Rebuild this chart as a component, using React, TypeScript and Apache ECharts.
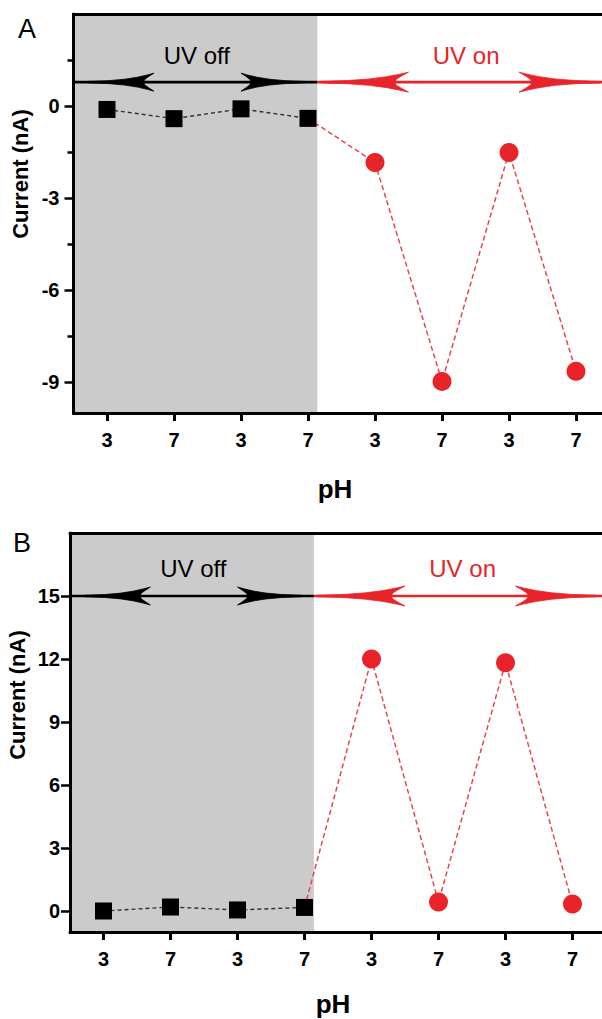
import React, { useEffect, useRef } from "react";
import * as echarts from "echarts";

// ---- data ----
const phLabels = ["3", "7", "3", "7", "3", "7", "3", "7"];
const positions = [1, 2, 3, 4, 5, 6, 7, 8];
const offA = [-0.11, -0.41, -0.09, -0.4];
const onA = [-1.84, -8.97, -1.51, -8.64];
const offB = [0.0, 0.19, 0.05, 0.17];
const onB = [12.0, 0.43, 11.82, 0.33];
const yTicksA = [-9, -6, -3, 0];
const yMinorA = [-7.5, -4.5, -1.5, 1.5];
const yTicksB = [0, 3, 6, 9, 12, 15];
const yRangeA = [-10, 3];
const yRangeB = [-1, 18];
const xRange = [0.5, 8.5];
const uvBoundary = 4.14;
const arrowLevelA = 0.78;
const arrowLevelB = 15;
const textLevelA = 1.65;
const textLevelB = 16.3;
const offTextX = 2.34;
const onTextX = 6.36;
// [tip, back] x positions of arrowheads
const offArrows = [
  [0.72, 1.7],
  [3.95, 3.0],
];
const onArrows = [
  [4.2, 5.5],
  [8.35, 7.15],
];

const GRAY = "#cbcbcb";
const RED = "#e8242a";
const RED_LINE = "#e5484c";
const FONT = "'Liberation Sans', Arial, Helvetica, sans-serif";

function arrowHead(tip: number[], back: number[], h: number, color: string) {
  const L = back[0] - tip[0];
  const prof = [
    [0, 0.08],
    [0.3, 0.16],
    [0.55, 0.32],
    [0.75, 0.55],
    [0.9, 0.8],
    [1, 1],
    [0.92, 0.62],
    [0.86, 0.3],
    [0.84, 0],
  ];
  const pts: number[][] = [[tip[0] - 0.02 * L, tip[1]]];
  prof.forEach(([t, w]) => pts.push([tip[0] + t * L, tip[1] - w * h]));
  for (let i = prof.length - 2; i >= 0; i--) {
    const [t, w] = prof[i];
    pts.push([tip[0] + t * L, tip[1] + w * h]);
  }
  return { type: "polygon", shape: { points: pts }, style: { fill: color, stroke: color, lineWidth: 0.8 } };
}

function overlay(level: number, yr: number[], textLevel: number) {
  return (params: any, api: any) => {
    const tl = api.coord([xRange[0], yr[1]]);
    const br = api.coord([uvBoundary, yr[0]]);
    const l0 = api.coord([xRange[0], level]);
    const lb = api.coord([uvBoundary, level]);
    const l1 = api.coord([xRange[1], level]);
    const children: any[] = [
      {
        type: "rect",
        shape: { x: tl[0], y: tl[1], width: br[0] - tl[0], height: br[1] - tl[1] },
        style: { fill: GRAY },
      },
      {
        type: "line",
        shape: { x1: l0[0], y1: l0[1], x2: lb[0], y2: lb[1] },
        style: { stroke: "#000", lineWidth: 2.6 },
      },
      {
        type: "line",
        shape: { x1: lb[0], y1: lb[1], x2: l1[0], y2: l1[1] },
        style: { stroke: RED, lineWidth: 2.6 },
      },
    ];
    offArrows.forEach(([t, b]) => {
      children.push(arrowHead(api.coord([t, level]), api.coord([b, level]), 9, "#000"));
    });
    onArrows.forEach(([t, b]) => {
      children.push(arrowHead(api.coord([t, level]), api.coord([b, level]), 10, RED));
    });
    const pOff = api.coord([offTextX, textLevel]);
    const pOn = api.coord([onTextX, textLevel]);
    children.push({
      type: "text",
      x: pOff[0],
      y: pOff[1],
      style: { text: "UV off", fill: "#000", fontSize: 24, fontFamily: FONT, align: "center", verticalAlign: "middle" },
    });
    children.push({
      type: "text",
      x: pOn[0],
      y: pOn[1],
      style: { text: "UV on", fill: RED, fontSize: 24, fontFamily: FONT, align: "center", verticalAlign: "middle" },
    });
    return { type: "group", children };
  };
}

const axisLine = { show: true, onZero: false, lineStyle: { color: "#000", width: 3 } };
const tickLabel = { color: "#000", fontSize: 20, fontWeight: "bold", fontFamily: FONT };

function bottomX(gridIndex: number) {
  return {
    type: "value",
    gridIndex,
    position: "bottom",
    min: xRange[0],
    max: xRange[1],
    z: 10,
    axisLine,
    splitLine: { show: false },
    axisTick: { show: true, customValues: positions, length: 8, lineStyle: { color: "#000", width: 3 } },
    axisLabel: {
      ...tickLabel,
      customValues: positions,
      margin: 17,
      formatter: (v: number) => phLabels[Math.round(v) - 1] ?? "",
    },
  };
}
function topX(gridIndex: number) {
  return {
    type: "value",
    gridIndex,
    position: "top",
    min: xRange[0],
    max: xRange[1],
    z: 10,
    axisLine,
    splitLine: { show: false },
    axisTick: { show: false },
    axisLabel: { show: false },
  };
}

function series(off: number[], on: number[], xIdx: number, yIdx: number) {
  const offData = off.map((v, i) => [positions[i], v]);
  const onData: any[] = [
    { value: [positions[off.length - 1], off[off.length - 1]], symbol: "none" },
    ...on.map((v, i) => [positions[off.length + i], v]),
  ];
  return [
    {
      type: "line",
      xAxisIndex: xIdx,
      yAxisIndex: yIdx,
      data: onData,
      z: 3,
      symbol: "circle",
      symbolSize: 19,
      itemStyle: { color: RED },
      lineStyle: { color: RED_LINE, width: 1.5, type: [5, 3] },
    },
    {
      type: "line",
      xAxisIndex: xIdx,
      yAxisIndex: yIdx,
      data: offData,
      z: 4,
      symbol: "rect",
      symbolSize: 17,
      itemStyle: { color: "#000" },
      lineStyle: { color: "#333", width: 1.4, type: [4, 3] },
    },
  ];
}

const option: any = {
  animation: false,
  backgroundColor: "#fff",
  grid: [
    { left: 73.5, top: 14, width: 536, height: 399 },
    { left: 70, top: 533, width: 536, height: 399 },
  ],
  xAxis: [bottomX(0), topX(0), bottomX(1), topX(1)],
  yAxis: [
    {
      type: "value",
      gridIndex: 0,
      position: "left",
      min: yRangeA[0],
      max: yRangeA[1],
      z: 10,
      axisLine,
      splitLine: { show: false },
      axisTick: { show: true, customValues: yTicksA, length: 9, lineStyle: { color: "#000", width: 2.5 } },
      axisLabel: { ...tickLabel, customValues: yTicksA, margin: 14 },
    },
    {
      type: "value",
      gridIndex: 0,
      position: "left",
      min: yRangeA[0],
      max: yRangeA[1],
      z: 10,
      axisLine: { show: false },
      splitLine: { show: false },
      axisTick: { show: true, customValues: yMinorA, length: 6, lineStyle: { color: "#000", width: 2.5 } },
      axisLabel: { show: false },
    },
    {
      type: "value",
      gridIndex: 1,
      position: "left",
      min: yRangeB[0],
      max: yRangeB[1],
      z: 10,
      axisLine,
      splitLine: { show: false },
      axisTick: { show: true, customValues: yTicksB, length: 9, lineStyle: { color: "#000", width: 2.5 } },
      axisLabel: { ...tickLabel, customValues: yTicksB, margin: 10 },
    },
  ],
  series: [
    {
      type: "custom",
      xAxisIndex: 0,
      yAxisIndex: 0,
      z: 1,
      silent: true,
      data: [[xRange[0], arrowLevelA]],
      renderItem: overlay(arrowLevelA, yRangeA, textLevelA),
    },
    {
      type: "custom",
      xAxisIndex: 2,
      yAxisIndex: 2,
      z: 1,
      silent: true,
      data: [[xRange[0], arrowLevelB]],
      renderItem: overlay(arrowLevelB, yRangeB, textLevelB),
    },
    ...series(offA, onA, 0, 0),
    ...series(offB, onB, 2, 2),
  ],
  graphic: [
    { type: "text", left: 18, top: 15, style: { text: "A", fontSize: 27, fontFamily: FONT, fill: "#000" } },
    { type: "text", left: 13, top: 529, style: { text: "B", fontSize: 27, fontFamily: FONT, fill: "#000" } },
    {
      type: "text",
      x: 20,
      y: 174,
      rotation: Math.PI / 2,
      style: { text: "Current (nA)", fontSize: 22, fontWeight: "bold", fontFamily: FONT, fill: "#000", align: "center", verticalAlign: "middle" },
    },
    {
      type: "text",
      x: 17,
      y: 695,
      rotation: Math.PI / 2,
      style: { text: "Current (nA)", fontSize: 22, fontWeight: "bold", fontFamily: FONT, fill: "#000", align: "center", verticalAlign: "middle" },
    },
    {
      type: "text",
      x: 335,
      y: 489,
      style: { text: "pH", fontSize: 26, fontWeight: "bold", fontFamily: FONT, fill: "#000", align: "center", verticalAlign: "middle" },
    },
    {
      type: "text",
      x: 333,
      y: 1004,
      style: { text: "pH", fontSize: 26, fontWeight: "bold", fontFamily: FONT, fill: "#000", align: "center", verticalAlign: "middle" },
    },
  ],
};

export default function App() {
  const ref = useRef<HTMLDivElement>(null);
  useEffect(() => {
    const chart = echarts.init(ref.current!, null, { renderer: "svg" });
    chart.setOption(option);
    return () => chart.dispose();
  }, []);
  return (
    <div
      style={{ position: "fixed", left: 0, top: 0, width: 602, height: 1019, overflow: "hidden", background: "#fff" }}
    >
      <div ref={ref} style={{ width: 620, height: 1019 }} />
    </div>
  );
}
